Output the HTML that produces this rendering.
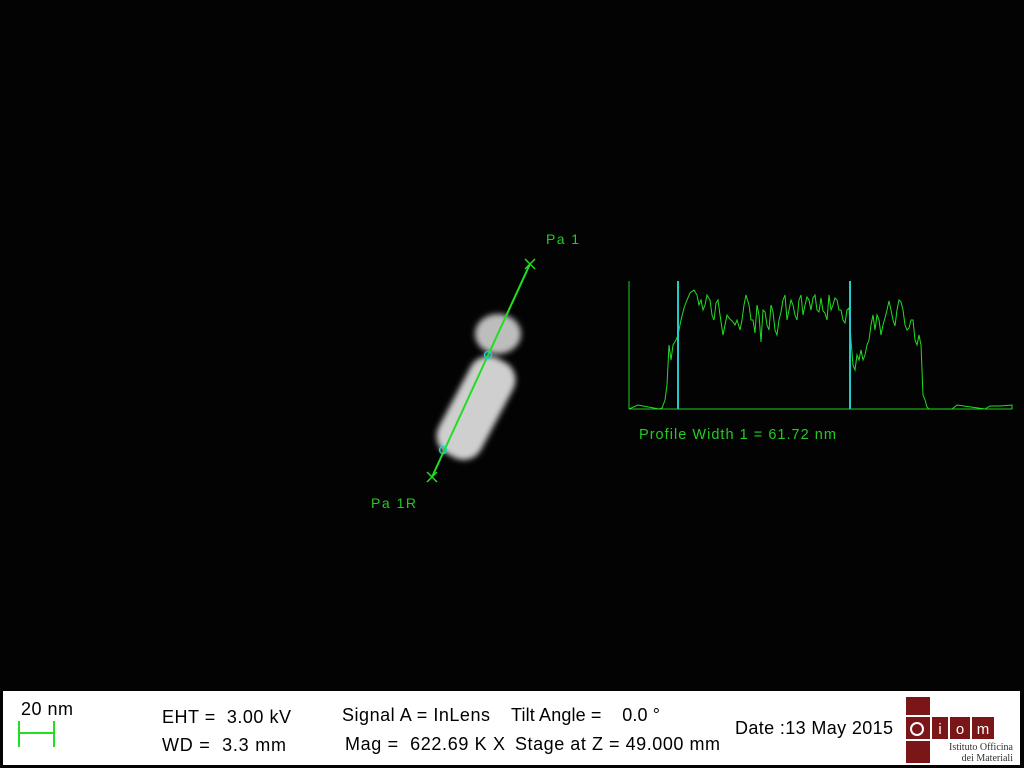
<!DOCTYPE html>
<html><head><meta charset="utf-8">
<style>
html,body{margin:0;padding:0;background:#000;width:1024px;height:768px;overflow:hidden;font-family:"Liberation Sans",sans-serif}
svg{position:absolute;left:0;top:0}
text{white-space:pre}
</style></head>
<body>
<svg width="1024" height="768">
<defs>
<filter id="blur" x="-30%" y="-30%" width="160%" height="160%"><feGaussianBlur stdDeviation="3"/></filter>
</defs>
<rect x="0" y="0" width="1024" height="768" fill="#030303"/>
<g filter="url(#blur)">
<ellipse cx="498" cy="334" rx="23" ry="20" fill="#bdbdbd"/>
<rect x="452" y="354" width="48" height="108" rx="20" fill="#cfcfcf" transform="rotate(28 476 408)"/>
</g>
<g>
<line x1="530" y1="264" x2="432" y2="477" stroke="#22dd22" stroke-width="2"/>
<path d="M525 259 L535 269 M535 259 L525 269" stroke="#22dd22" stroke-width="1.5"/>
<path d="M427 472 L437 482 M437 472 L427 482" stroke="#22dd22" stroke-width="1.5"/>
<circle cx="488" cy="355" r="3.5" fill="none" stroke="#22cccc" stroke-width="1.5"/>
<circle cx="443" cy="450" r="3.5" fill="none" stroke="#22cccc" stroke-width="1.5"/>
<text x="546" y="244" fill="#22cc22" font-size="14" textLength="33">Pa 1</text>
<text x="371" y="508" fill="#22cc22" font-size="14" textLength="45">Pa 1R</text>
</g>
<g id="profile">
<line x1="629" y1="281" x2="629" y2="409" stroke="#22cc22" stroke-width="1"/>
<line x1="629" y1="409" x2="1012" y2="409" stroke="#22cc22" stroke-width="1"/>
<text x="639" y="439" fill="#22cc22" font-size="14.5" textLength="197">Profile Width 1 = 61.72 nm</text>
</g>
<g>
<rect x="3" y="691" width="1017" height="74" fill="#fff"/>
<text x="21" y="715" font-size="18" textLength="52" fill="#000">20 nm</text>
<path d="M19 733 L54 733 M19 721 L19 747 M54 721 L54 747" stroke="#22dd22" stroke-width="2" fill="none"/>
<text x="162" y="723" font-size="18" textLength="129">EHT =  3.00 kV</text>
<text x="162" y="751" font-size="18" textLength="124">WD =  3.3 mm</text>
<text x="342" y="721" font-size="18" textLength="148">Signal A = InLens</text>
<text x="345" y="750" font-size="18" textLength="160">Mag =  622.69 K X</text>
<text x="511" y="721" font-size="18" textLength="149">Tilt Angle =    0.0 °</text>
<text x="515" y="750" font-size="18" textLength="205">Stage at Z = 49.000 mm</text>
<text x="735" y="734" font-size="18" textLength="158">Date :13 May 2015</text>
<g>
<rect x="906" y="697" width="24" height="18" fill="#7a1518"/>
<rect x="906" y="717" width="24" height="22" fill="#7a1518"/>
<rect x="932" y="717" width="16" height="22" fill="#7a1518"/>
<rect x="950" y="717" width="20" height="22" fill="#7a1518"/>
<rect x="972" y="717" width="22" height="22" fill="#7a1518"/>
<rect x="906" y="741" width="24" height="22" fill="#7a1518"/>
<circle cx="917" cy="729" r="6" fill="none" stroke="#fff" stroke-width="2"/>
<text x="940" y="734" font-size="15" fill="#fff" text-anchor="middle">i</text>
<text x="960" y="734" font-size="15" fill="#fff" text-anchor="middle">o</text>
<text x="983" y="734" font-size="15" fill="#fff" text-anchor="middle">m</text>
<text x="1013" y="750" font-size="10" font-family="Liberation Serif,serif" fill="#333" text-anchor="end">Istituto Officina</text>
<text x="1013" y="761" font-size="10" font-family="Liberation Serif,serif" fill="#333" text-anchor="end">dei Materiali</text>
</g>
</g>
</svg>
<script>
// profile positions (pixel-column index within profile) and intensities (0..128)
const profileX = [0,9,30,33,36,38,40,42,44,47,49,52,55,58,61,65,68,70,72,74,76,78,81,83,85,87,89,91,94,96,98,100,102,104,106,108,111,113,115,117,120,122,124,126,128,130,132,134,136,138,140,142,144,146,148,150,152,154,156,158,160,162,164,166,168,170,172,174,176,178,180,182,184,186,188,190,192,194,196,198,200,202,204,206,208,210,212,214,216,218,220,222,224,226,228,230,232,234,236,238,240,242,244,246,248,250,252,254,256,258,260,262,264,266,268,270,272,274,276,278,280,282,284,286,288,290,292,294,296,298,300,323,328,356,361,371,383];
const profileV = [0,4,0,1,9,24,64,49,64,69,74,89,101,109,116,119,114,104,109,99,104,114,109,94,89,106,109,94,74,84,94,91,89,87,84,89,79,89,104,114,104,89,89,76,104,94,67,99,97,84,79,104,97,79,74,89,97,109,114,89,99,109,104,94,89,109,114,94,104,112,109,99,111,114,99,97,111,98,96,89,114,99,104,111,109,99,99,89,86,99,101,69,44,39,54,49,59,49,54,64,69,84,94,79,94,89,74,84,91,99,108,99,89,83,99,109,107,99,84,79,81,89,89,69,64,74,64,14,9,2,0,0,4,0,3,3,4];
const originX = 629, baseY = 409;
function xs(i){ return originX + i; }
function ys(v){ return baseY - v; }
const g = document.getElementById('profile');
const NS = 'http://www.w3.org/2000/svg';
let d = '';
profileX.forEach((p,i)=>{ d += (i?'L':'M') + xs(p) + ' ' + ys(profileV[i]) + ' '; });
d += 'L' + xs(383) + ' ' + baseY;
const path = document.createElementNS(NS,'path');
path.setAttribute('d', d);
path.setAttribute('fill','none');
path.setAttribute('stroke','#22dd22');
path.setAttribute('stroke-width','1');


g.appendChild(path);
const edges = [49, 221];
edges.forEach(e=>{
  const l = document.createElementNS(NS,'line');
  l.setAttribute('x1', xs(e)); l.setAttribute('x2', xs(e));
  l.setAttribute('y1', 281); l.setAttribute('y2', baseY);
  l.setAttribute('stroke','#22cccc'); l.setAttribute('stroke-width','2');
  
  
  g.appendChild(l);
});
</script>
</body></html>
